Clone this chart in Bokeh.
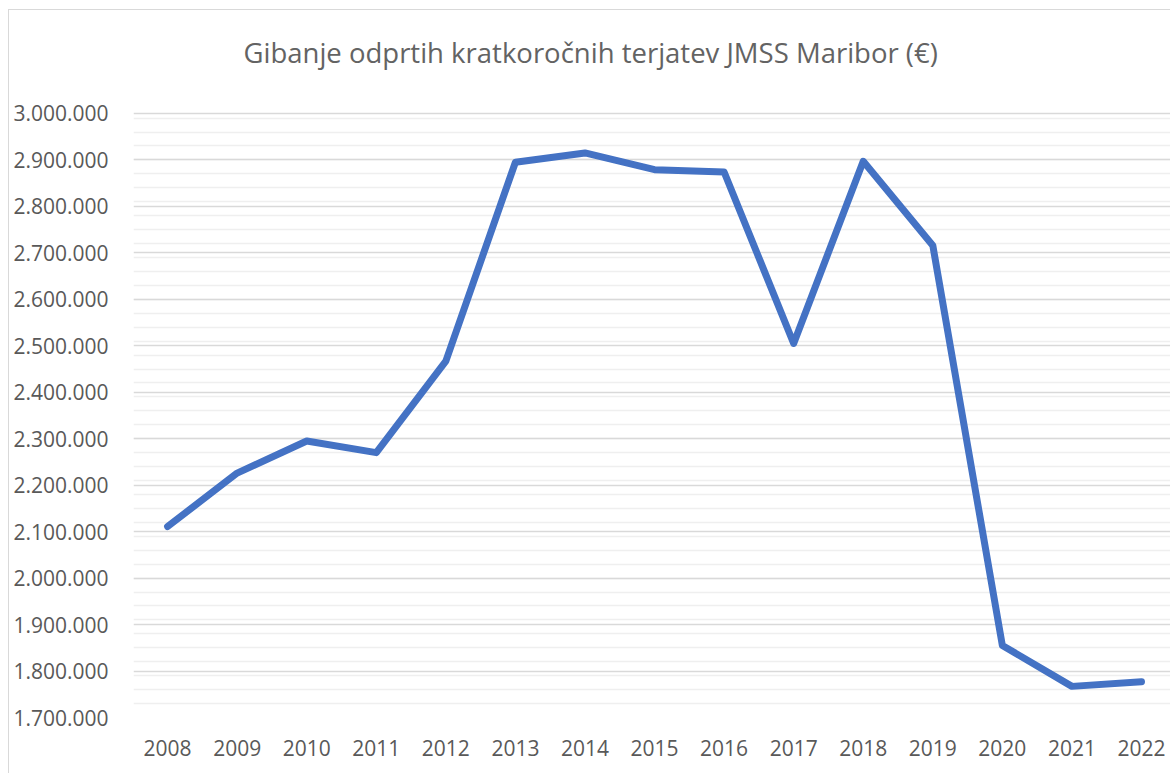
from bokeh.plotting import figure
from bokeh.models import Range1d, FixedTicker, Grid, CustomJSTickFormatter, Label
from bokeh.embed import file_html
from bokeh.resources import INLINE

years = [2008, 2009, 2010, 2011, 2012, 2013, 2014, 2015, 2016, 2017, 2018, 2019, 2020, 2021, 2022]
values = [2111000, 2226000, 2295000, 2270000, 2467000, 2895000, 2915000, 2879000, 2874000,
          2505000, 2897000, 2716000, 1855000, 1767000, 1777000]
y_ticks = [1700000 + 100000 * i for i in range(14)]
minor_ticks = [1700000 + 30000 * i for i in range(44)]
title_text = "Gibanje odprtih kratkoročnih terjatev JMSS Maribor (€)"

FONT = "Open Sans"
GREY = "#595959"

# the frame reaches up to the title area (blank above 3.000.000) so the title can sit inside it
p = figure(width=1170, height=773, output_backend="svg", toolbar_location=None,
           x_range=Range1d(2007.51, 2022.417), y_range=Range1d(1700000, 3200000),
           min_border_left=133, min_border_right=0, min_border_top=20, min_border_bottom=56)
p.styles = {
    "background": "linear-gradient(#d9d9d9, #d9d9d9) 8px 9px / 1px calc(100% - 9px) no-repeat, "
                  "linear-gradient(#d9d9d9, #d9d9d9) 8px 9px / calc(100% - 8px) 1px no-repeat, white"
}

# chart title (screen units are relative to the plot frame)
title = Label(x=110, y=665, x_units="screen", y_units="screen", text=title_text,
              text_font=FONT, text_font_size="27.5px", text_color="#636363",
              text_align="left", text_baseline="middle")
p.add_layout(title)

p.outline_line_color = None
p.background_fill_color = None
p.border_fill_color = None

# axes
p.xaxis.ticker = FixedTicker(ticks=years)
p.xaxis.major_label_overrides = {y: str(y) for y in years}
p.yaxis.ticker = FixedTicker(ticks=y_ticks)
p.yaxis.formatter = CustomJSTickFormatter(code="""
return Math.round(tick).toString().replace(/\\B(?=(\\d{3})+(?!\\d))/g, ".");
""")
for ax in (p.xaxis[0], p.yaxis[0]):
    ax.axis_line_color = None
    ax.major_tick_line_color = None
    ax.minor_tick_line_color = None
    ax.major_label_text_font = FONT
    ax.major_label_text_font_size = "21px"
    ax.major_label_text_color = GREY
p.yaxis.major_label_standoff = 19
p.xaxis.major_label_standoff = 16

# grids
p.xgrid.grid_line_color = None
p.ygrid.grid_line_color = None
minor_grid = Grid(dimension=1, ticker=FixedTicker(ticks=minor_ticks),
                  grid_line_color="#efefef", grid_line_width=1.5)
major_grid = Grid(dimension=1, ticker=FixedTicker(ticks=y_ticks),
                  grid_line_color="#d9d9d9", grid_line_width=1.5)
p.add_layout(minor_grid)
p.add_layout(major_grid)

p.line(years, values, line_color="#4472C4", line_width=7, line_cap="round", line_join="round")

open("out.html", "w").write(file_html(p, INLINE))
